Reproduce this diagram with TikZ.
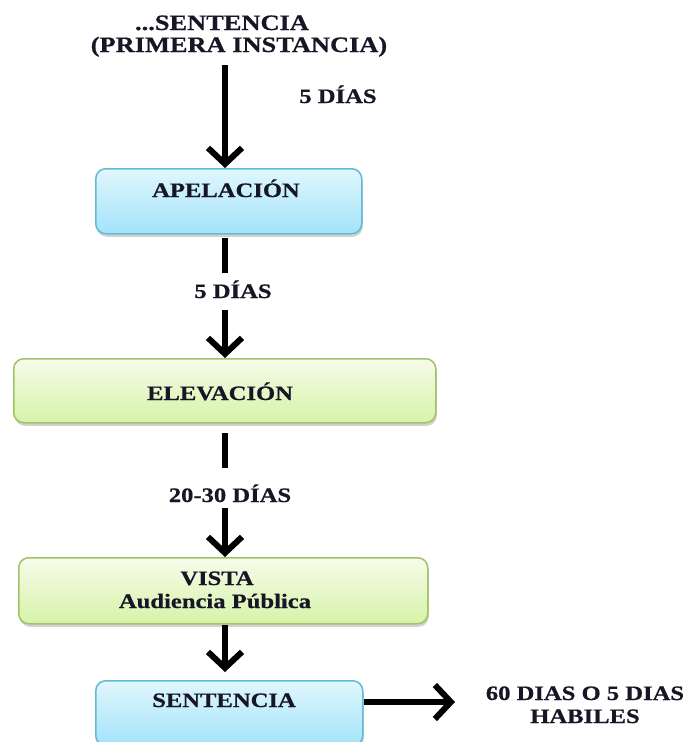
\documentclass[tikz,border=0pt]{standalone}
\usepackage{fontspec}
\setmainfont{Liberation Serif}[FakeStretch=1.2, BoldFeatures={FakeBold=0.6}]
\usetikzlibrary{arrows.meta,shadows}
\definecolor{txt}{RGB}{22,22,38}
\definecolor{cyantop}{RGB}{224,247,253}
\definecolor{cyanbot}{RGB}{163,227,250}
\definecolor{cyanedge}{RGB}{100,185,215}
\definecolor{greentop}{RGB}{246,252,234}
\definecolor{greenbot}{RGB}{214,243,168}
\definecolor{greenedge}{RGB}{160,195,100}
\begin{document}
\begin{tikzpicture}[x=1pt,y=-1pt,
  box/.style={draw, line width=1.5pt, rounded corners=10pt, inner sep=0pt, anchor=north west,
    drop shadow={shadow xshift=1pt, shadow yshift=-3pt, opacity=0.35}},
  bluebox/.style={box, draw=cyanedge, top color=cyantop, bottom color=cyanbot},
  greenbox/.style={box, draw=greenedge, top color=greentop, bottom color=greenbot},
  lbl/.style={font=\bfseries\fontsize{20.5}{24}\selectfont, text=txt, inner sep=0pt, anchor=base},
  ttl/.style={font=\bfseries\fontsize{22}{26}\selectfont, text=txt, inner sep=0pt, anchor=base},
  arr/.style={line width=6pt, -{Straight Barb[length=16pt,width=34pt]}},
  seg/.style={line width=6pt}]
\fill[white] (0,0) rectangle (686,742);
\useasboundingbox (0,0) rectangle (686,742);
\clip (0,0) rectangle (686,742);

% boxes
\node[bluebox, minimum width=266pt, minimum height=65pt] (apel) at (95,168) {};
\node[greenbox, minimum width=422pt, minimum height=64pt] (elev) at (13,358) {};
\node[greenbox, minimum width=409pt, minimum height=66pt] (vista) at (18,557) {};
\node[bluebox, minimum width=267pt, minimum height=65pt] (sent) at (95,680) {};

% texts
\node[ttl] (t1) at (222,30) {...SENTENCIA};
\node[ttl] (t2) at (239,52) {(PRIMERA INSTANCIA)};
\node[lbl] (d1) at (338,103) {5 DÍAS};
\node[lbl] (tapel) at (226,197) {APELACIÓN};
\node[lbl] (d2) at (233,298) {5 DÍAS};
\node[lbl] (telev) at (220,400) {ELEVACIÓN};
\node[lbl] (d3) at (230,502) {20-30 DÍAS};
\node[lbl] (tvista) at (217,585) {VISTA};
\node[lbl] (taud) at (215,608) {Audiencia Pública};
\node[lbl] (tsent) at (224,707) {SENTENCIA};
\node[lbl] (r1) at (585,700) {60 DIAS O 5 DIAS};
\node[lbl] (r2) at (585,723) {HABILES};

% connectors
\coordinate (a1) at (225,65);
\draw[arr] (a1) -- (a1 |- apel.north);
\coordinate (s2a) at (225,238);
\coordinate (s2b) at (225,273);
\draw[seg] (s2a) -- (s2b);
\coordinate (a2) at (225,310);
\draw[arr] (a2) -- (a2 |- elev.north);
\coordinate (s3a) at (225,433);
\coordinate (s3b) at (225,468);
\draw[seg] (s3a) -- (s3b);
\coordinate (a3) at (225,508);
\draw[arr] (a3) -- (a3 |- vista.north);
\draw[arr] (vista.south -| a1) -- ([yshift=8pt]sent.north -| a1);
\coordinate (e5) at (455,702);
\draw[arr] (e5 -| sent.east) -- (e5);
\end{tikzpicture}
\end{document}
